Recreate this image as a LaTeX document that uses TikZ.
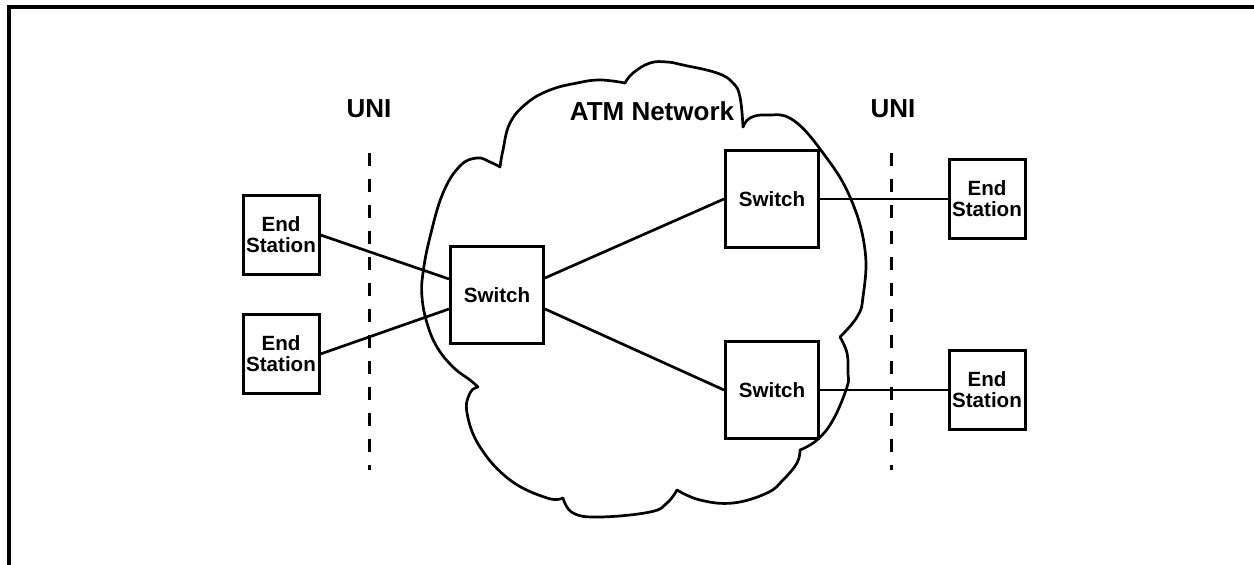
\documentclass[tikz,border=0pt]{standalone}
\usepackage{fontspec}
\setmainfont{Liberation Sans}
\begin{document}
\begin{tikzpicture}[x=0.5pt,y=-0.5pt,
  box/.style={draw, line width=1.5pt, fill=white, inner sep=0pt, align=center,
              font=\bfseries\fontsize{10.3}{10.5}\selectfont},
  station/.style={box, minimum width=38pt, minimum height=39.5pt},
  switchbox/.style={box, minimum width=46.5pt, minimum height=48.5pt},
  link/.style={line width=1.35pt},
  lbl/.style={font=\bfseries\fontsize{13}{15}\selectfont, inner sep=0pt},
  uniline/.style={line width=1.5pt, dash pattern=on 6.5pt off 6.5pt},
  cloud/.style={line width=1.35pt, line cap=round, line join=round},
  frame/.style={line width=1.8pt}]
\useasboundingbox (0,0) rectangle (1254,565);

% open frame: top and left edges only
\coordinate (fl) at (9,565);
\coordinate (fc) at (9,7);
\coordinate (fr) at (1254,7);
\draw[frame] (fl) -- (fc) -- (fr);

% cloud outline, one lobe at a time
\draw[cloud] plot[smooth,tension=0.7] coordinates {(500,167) (503,150) (510,123) (527,103) (550,90) (577,83) (600,80) (625,83)};
\draw[cloud] plot[smooth,tension=0.7] coordinates {(625,83) (633,73) (650,63) (667,62) (683,65) (717,73) (733,83) (740,97) (743,127)};
\draw[cloud] plot[smooth,tension=0.7] coordinates {(743,127) (750,118) (767,115) (793,120) (823,153) (850,197) (865,250) (863,297) (857,317) (840,337)};
\draw[cloud] plot[smooth,tension=0.7] coordinates {(840,337) (847,353) (848,373) (847,387) (833,420) (817,440) (800,450)};
\draw[cloud] plot[smooth,tension=0.7] coordinates {(800,450) (797,463) (783,480) (767,493) (733,503) (700,500) (677,490)};
\draw[cloud] plot[smooth,tension=0.7] coordinates {(677,490) (667,503) (650,512) (600,517) (573,513) (563,498)};
\draw[cloud] plot[smooth,tension=0.7] coordinates {(563,498) (547,498) (510,480) (480,447) (467,413) (470,393) (478,387)};
\draw[cloud] plot[smooth,tension=0.7] coordinates {(478,387) (470,380) (453,367) (437,347) (427,323) (422,297) (423,273) (430,237) (443,193) (460,166) (477,158) (490,162) (500,167)};

% labels
\node[lbl] (unil) at (369,109) {UNI};
\node[lbl] (unir) at (893,109) {UNI};
\node[lbl] (atm) at (652,111) {ATM Network};

% UNI boundaries
\coordinate (ula) at (369,153);
\coordinate (ulb) at (369,470);
\coordinate (ura) at (891,153);
\coordinate (urb) at (891,470);
\draw[uniline] (ula) -- (ulb);
\draw[uniline] (ura) -- (urb);

% stations and switches
\node[station] (es1) at (281,235) {End\\Station};
\node[station] (es2) at (281,354) {End\\Station};
\node[switchbox] (sw1) at (497,295) {Switch};
\node[switchbox] (sw2) at (772,199) {Switch};
\node[switchbox] (sw3) at (772,390) {Switch};
\node[station] (es3) at (987,199) {End\\Station};
\node[station] (es4) at (987,390) {End\\Station};

% links
\draw[link] (es1.east) -- ([yshift=8pt]sw1.west);
\draw[link] (es2.east) -- ([yshift=-7pt]sw1.west);
\draw[link] ([yshift=8.5pt]sw1.east) -- (sw2.west);
\draw[link] ([yshift=-7pt]sw1.east) -- (sw3.west);
\draw[link] (sw2.east) -- (es3.west);
\draw[link] (sw3.east) -- (es4.west);
\end{tikzpicture}
\end{document}
